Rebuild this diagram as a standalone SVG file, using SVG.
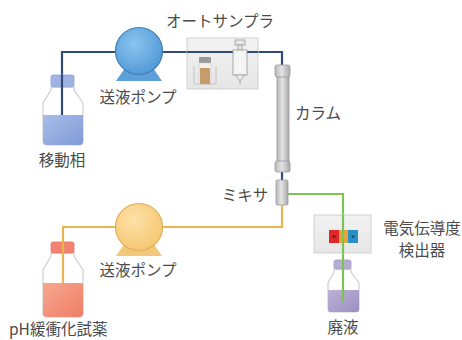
<svg xmlns="http://www.w3.org/2000/svg" width="462" height="340" viewBox="0 0 462 340">
  <defs>
    <radialGradient id="gBluePump" cx="0.4" cy="0.35" r="0.7">
      <stop offset="0" stop-color="#8cc4ef"/>
      <stop offset="1" stop-color="#4f98d6"/>
    </radialGradient>
    <radialGradient id="gOrangePump" cx="0.4" cy="0.35" r="0.7">
      <stop offset="0" stop-color="#fde2a8"/>
      <stop offset="1" stop-color="#f5c670"/>
    </radialGradient>
    <linearGradient id="gBlueLiq" x1="0" y1="0" x2="1" y2="1">
      <stop offset="0" stop-color="#a9bdea"/>
      <stop offset="1" stop-color="#7f9ad6"/>
    </linearGradient>
    <linearGradient id="gRedLiq" x1="0" y1="0" x2="1" y2="1">
      <stop offset="0" stop-color="#f8a890"/>
      <stop offset="1" stop-color="#ee7d66"/>
    </linearGradient>
    <linearGradient id="gPurpleLiq" x1="0" y1="0" x2="1" y2="1">
      <stop offset="0" stop-color="#bdb2d8"/>
      <stop offset="1" stop-color="#9c8fc0"/>
    </linearGradient>
    <linearGradient id="gColumn" x1="0" y1="0" x2="1" y2="0">
      <stop offset="0" stop-color="#b8b8b8"/>
      <stop offset="0.45" stop-color="#e4e4e4"/>
      <stop offset="1" stop-color="#a8a8a8"/>
    </linearGradient>
    <linearGradient id="gBox" x1="0" y1="0" x2="0" y2="1">
      <stop offset="0" stop-color="#f2f2f2"/>
      <stop offset="1" stop-color="#e6e6e6"/>
    </linearGradient>
  </defs>
  <style>
    .lbl { font-family: "Noto Sans CJK JP", "Noto Sans", sans-serif; font-size: 15.5px; fill: #4a4a4a; }
    .bottle { fill: #ffffff; stroke: #cfcfcf; stroke-width: 1.2; }
    .pipe { fill: none; stroke-width: 2.2; stroke-linejoin: miter; }
    .blue { stroke: #2f4d78; }
    .orange { stroke: #ecb450; }
    .green { stroke: #7cc452; }
    .grey { fill: url(#gColumn); stroke: #9a9a9a; stroke-width: 0.8; }
  </style>

  <!-- tubing -->
  <g id="connectors">
    <path class="pipe blue" d="M62,115 V52 H282 V66"/>
    <path class="pipe blue" d="M282,171 V181"/>
    <path class="pipe orange" d="M63,283 V227 H282 V205"/>
    <path class="pipe green" d="M287,194 H343 V302"/>
  </g>

  <!-- mobile phase bottle -->
  <g id="mobile-phase">
    <path class="bottle" d="M51,87 H74 V90 L83,103 V141 Q83,145 79,145 H47 Q43,145 43,141 V103 L51,90 Z"/>
    <path d="M43,115 H83 V141 Q83,145 79,145 H47 Q43,145 43,141 Z" fill="url(#gBlueLiq)"/>
    <rect x="51" y="75" width="23" height="12" rx="2" fill="#9fb3e4" stroke="#8ea3d8" stroke-width="0.8"/>
    <line x1="62" y1="75" x2="62" y2="115" stroke="#2f4d78" stroke-width="2.2"/>
    <text class="lbl" x="62" y="166" text-anchor="middle">移動相</text>
  </g>

  <!-- pump 1 -->
  <g id="pump-1">
    <path d="M125,68 H153 L162,81 H116 Z" fill="#5d9fd8"/>
    <circle cx="139" cy="51" r="23.5" fill="url(#gBluePump)" stroke="#3d7cb6" stroke-width="1.2"/>
    <text class="lbl" x="138" y="103" text-anchor="middle">送液ポンプ</text>
  </g>

  <!-- autosampler -->
  <g id="autosampler">
    <rect x="187" y="38" width="71" height="51" fill="url(#gBox)" stroke="#d2d2d2" stroke-width="1"/>
    <line x1="187" y1="52" x2="258" y2="52" stroke="#2f4d78" stroke-width="2.2"/>
    <!-- vial in rack -->
    <path d="M194,66 V84 H216 V66" fill="none" stroke="#c4c4c4" stroke-width="1"/>
    <rect x="199" y="57" width="12" height="6" rx="1" fill="#9a9a9a"/>
    <rect x="199" y="63" width="12" height="21" fill="#f4f0ea" stroke="#c8c8c8" stroke-width="0.6"/>
    <rect x="200" y="68" width="10" height="16" fill="#c79b6c"/>
    <!-- syringe -->
    <rect x="235" y="40" width="10" height="5" fill="#e8e8e8" stroke="#9a9a9a" stroke-width="0.8"/>
    <rect x="238" y="45" width="4" height="5" fill="#e8e8e8" stroke="#9a9a9a" stroke-width="0.8"/>
    <rect x="233" y="50" width="14" height="25" fill="#f4f4f4" stroke="#9a9a9a" stroke-width="0.8"/>
    <path d="M235,75 H245 L240,81 Z" fill="#e8e8e8" stroke="#9a9a9a" stroke-width="0.8"/>
    <line x1="240" y1="81" x2="240" y2="84" stroke="#9a9a9a" stroke-width="0.8"/>
    <text class="lbl" x="220" y="27" text-anchor="middle">オートサンプラ</text>
  </g>

  <!-- column -->
  <g id="column">
    <rect class="grey" x="277" y="76" width="12" height="88"/>
    <rect class="grey" x="275" y="65" width="15" height="12" rx="2"/>
    <rect class="grey" x="275" y="161" width="15" height="11" rx="2"/>
    <text class="lbl" x="318" y="119" text-anchor="middle">カラム</text>
  </g>

  <!-- mixer -->
  <g id="mixer">
    <rect class="grey" x="276" y="180" width="12" height="25" rx="1.5"/>
    <text class="lbl" x="245" y="201" text-anchor="middle">ミキサ</text>
  </g>

  <!-- conductivity detector -->
  <g id="detector">
    <rect x="314" y="215" width="57" height="38" fill="url(#gBox)" stroke="#d2d2d2" stroke-width="1"/>
    <rect x="329" y="230" width="10" height="13" fill="#e0262a"/>
    <rect x="339" y="230" width="9" height="13" fill="#e9a43a"/>
    <rect x="348" y="230" width="10" height="13" fill="#2a8fc2"/>
    <circle cx="334" cy="236.5" r="1.5" fill="#8a1010"/>
    <circle cx="353" cy="236.5" r="1.5" fill="#135d85"/>
    <line x1="343" y1="215" x2="343" y2="253" stroke="#7cc452" stroke-width="2.2"/>
    <text class="lbl" x="422" y="234" text-anchor="middle">電気伝導度</text>
    <text class="lbl" x="422" y="256" text-anchor="middle">検出器</text>
  </g>

  <!-- waste bottle -->
  <g id="waste">
    <path class="bottle" d="M334,269 H351 V272 L359,283 V309 Q359,312 356,312 H331 Q328,312 328,309 V283 L334,272 Z"/>
    <path d="M328,290 H359 V309 Q359,312 356,312 H331 Q328,312 328,309 Z" fill="url(#gPurpleLiq)"/>
    <rect x="334" y="260" width="17" height="9" rx="2" fill="#b5add2" stroke="#a39ac4" stroke-width="0.8"/>
    <line x1="343" y1="260" x2="343" y2="302" stroke="#7cc452" stroke-width="2.2"/>
    <text class="lbl" x="343" y="333" text-anchor="middle">廃液</text>
  </g>

  <!-- pump 2 -->
  <g id="pump-2">
    <path d="M125,243 H153 L162,256 H116 Z" fill="#f2c77a"/>
    <circle cx="139" cy="227" r="23.5" fill="url(#gOrangePump)" stroke="#e2ac55" stroke-width="1.2"/>
    <text class="lbl" x="138" y="276" text-anchor="middle">送液ポンプ</text>
  </g>

  <!-- buffer reagent bottle -->
  <g id="buffer-reagent">
    <path class="bottle" d="M51,253 H74 V256 L83,270 V313 Q83,317 79,317 H47 Q43,317 43,313 V270 L51,256 Z"/>
    <path d="M43,283 H83 V313 Q83,317 79,317 H47 Q43,317 43,313 Z" fill="url(#gRedLiq)"/>
    <rect x="51" y="242" width="23" height="11" rx="2" fill="#f18370" stroke="#e57362" stroke-width="0.8"/>
    <line x1="63" y1="242" x2="63" y2="283" stroke="#ecb450" stroke-width="2.2"/>
    <text class="lbl" x="9" y="335">pH緩衝化試薬</text>
  </g>
</svg>
